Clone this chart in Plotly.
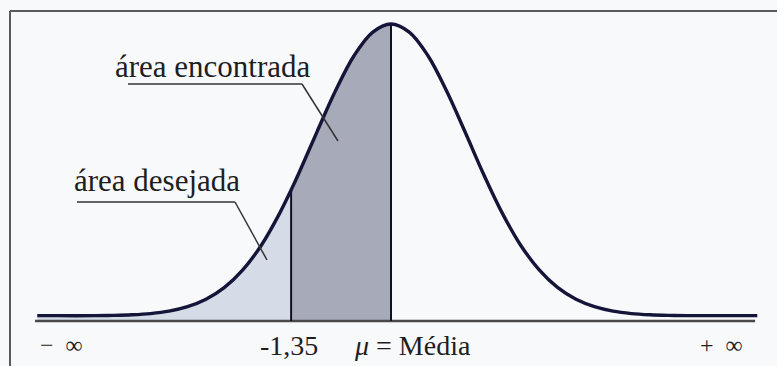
import plotly.graph_objects as go

# ---- data ----
# positions along the axis in standard-deviation units (mean = 0)
z_left = [-4.78, -4.5, -4.0, -3.75, -3.5, -3.25, -3.0, -2.75, -2.5, -2.25, -2.0,
          -1.75, -1.5, -1.35]
h_left = [0.018, 0.018, 0.018, 0.019, 0.021, 0.025, 0.033, 0.048, 0.073, 0.113,
          0.173, 0.256, 0.365, 0.441]
z_mid = [-1.35, -1.25, -1.0, -0.75, -0.5, -0.25, 0.0]
h_mid = [0.441, 0.495, 0.637, 0.775, 0.893, 0.972, 1.0]
z_right = [0.0, 0.25, 0.5, 0.75, 1.0, 1.25, 1.5, 1.75, 2.0, 2.25, 2.5, 2.75, 3.0,
           3.25, 3.5, 3.75, 4.0, 4.5, 4.95]
h_right = [1.0, 0.972, 0.893, 0.775, 0.637, 0.495, 0.365, 0.256, 0.173, 0.113,
           0.073, 0.048, 0.033, 0.025, 0.021, 0.019, 0.018, 0.018, 0.018]
z_cut = -1.35
h_cut = 0.441
z_mean = 0.0
h_peak = 1.0
axis_span = [-4.81, 4.92]

label_found = "área encontrada"
label_wanted = "área desejada"
label_minf = "−  ∞"
label_cut = "-1,35"
label_mean = "<i>μ</i> = Média"
label_pinf = "+  ∞"

# ---- helpers: pixel -> data coordinates (layout only) ----
W, H = 777, 366
X0, PXU = 391, 74.0     # mean pixel, pixels per unit
Y0, PYU = 321, 297.0    # axis pixel, pixels per unit height


def dx(p):
    return (p - X0) / PXU


def dy(p):
    return (Y0 - p) / PYU


curve_z = z_left + z_mid[1:] + z_right[1:]
curve_h = h_left + h_mid[1:] + h_right[1:]

fig = go.Figure()

# light fill: desired area
fig.add_trace(go.Scatter(
    x=z_left, y=h_left, fill="tozeroy", fillcolor="#d5dce7",
    line=dict(width=0, shape="spline", smoothing=1.0),
    mode="lines", hoverinfo="skip"))
# darker fill: found area
fig.add_trace(go.Scatter(
    x=z_mid, y=h_mid, fill="tozeroy", fillcolor="#a7aab8",
    line=dict(width=0, shape="spline", smoothing=1.0),
    mode="lines", hoverinfo="skip"))

# axis line
fig.add_trace(go.Scatter(x=axis_span, y=[0, 0], mode="lines",
                         line=dict(color="#4a4a4a", width=2.5), hoverinfo="skip"))
# vertical lines
fig.add_trace(go.Scatter(x=[z_cut, z_cut], y=[0, h_cut], mode="lines",
                         line=dict(color="#111122", width=2), hoverinfo="skip"))
fig.add_trace(go.Scatter(x=[z_mean, z_mean], y=[0, h_peak], mode="lines",
                         line=dict(color="#111122", width=2), hoverinfo="skip"))
# the normal curve
fig.add_trace(go.Scatter(x=curve_z, y=curve_h, mode="lines",
                         line=dict(color="#15153a", width=3.4, shape="spline",
                                   smoothing=1.0),
                         hoverinfo="skip"))

# leader lines and underlines
lc = "#333333"
for (x1, y1, x2, y2) in [(128, 84, 302, 84), (302, 84, 338, 141),
                         (77, 202, 235, 202), (235, 202, 267, 260)]:
    fig.add_shape(type="line", xref="x", yref="y",
                  x0=dx(x1), y0=dy(y1), x1=dx(x2), y1=dy(y2),
                  line=dict(color=lc, width=1.5))

# frame (left and top border)
fig.add_shape(type="line", xref="paper", yref="paper",
              x0=10 / W, y0=1 - 11 / H, x1=10 / W, y1=-0.05,
              line=dict(color="#5a5a5a", width=2))
fig.add_shape(type="line", xref="paper", yref="paper",
              x0=10 / W, y0=1 - 11 / H, x1=1.05, y1=1 - 11 / H,
              line=dict(color="#5a5a5a", width=2))

serif = "Liberation Serif, Times New Roman, serif"
tc = "#1e1e1e"


def label(text, xp, yp, size):
    fig.add_annotation(x=dx(xp), y=dy(yp), xref="x", yref="y", text=text,
                       showarrow=False, xanchor="center", yanchor="middle",
                       font=dict(family=serif, size=size, color=tc))


label(label_found, 213, 66, 31)
label(label_wanted, 157, 180, 31)
label(label_minf, 61, 345, 24)
label(label_cut, 289, 345, 28)
label(label_mean, 412, 345, 28)
label(label_pinf, 721, 345, 24)

fig.update_layout(
    width=W, height=H,
    margin=dict(l=0, r=0, t=0, b=0),
    paper_bgcolor="#f8f9fa", plot_bgcolor="#f8f9fa",
    showlegend=False,
    xaxis=dict(range=[dx(0), dx(W)], visible=False, fixedrange=True),
    yaxis=dict(range=[dy(H), dy(0)], visible=False, fixedrange=True),
)

fig.write_html(
    "out.html",
    config={"displayModeBar": False, "staticPlot": True},
    post_script="document.body.style.margin='0';document.body.style.overflow='hidden';",
)
